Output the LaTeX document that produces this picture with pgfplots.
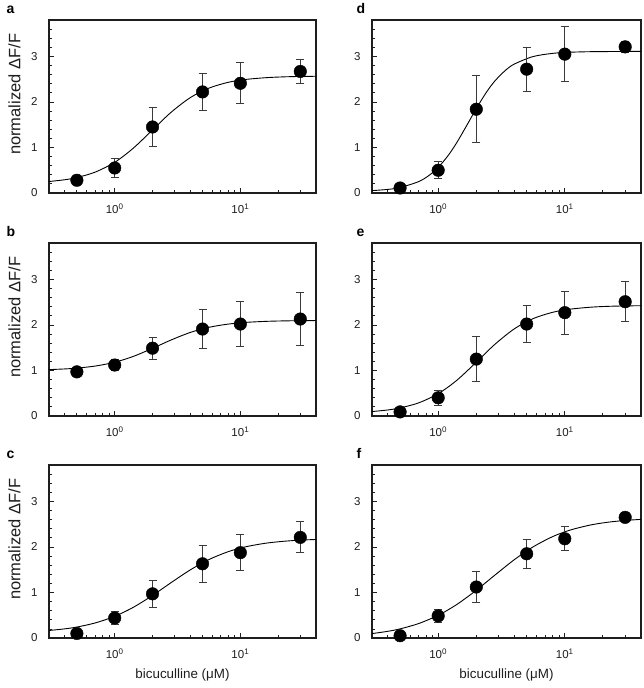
\documentclass[border=0pt]{standalone}
\usepackage{pgfplots}
\pgfplotsset{compat=1.18}
\usepackage{fontspec}
\setmainfont{Liberation Sans}
\definecolor{axc}{HTML}{1E1E1E}
\definecolor{erc}{HTML}{3A3A3A}

\begin{document}
\begin{tikzpicture}
\useasboundingbox (0pt,0pt) rectangle (643pt,-688pt);

% ---------- a ----------
\begin{axis}[xmode=log, scale only axis, width=267pt, height=173pt,
  xmin=0.3, xmax=40, ymin=0, ymax=3.8,
  xtick={1,10}, xticklabels={10\textsuperscript{0},10\textsuperscript{1}},
  minor xtick={0.4,0.5,0.6,0.7,0.8,0.9,2,3,4,5,6,7,8,9,20,30},
  ytick={0,1,2,3}, yticklabels={0,1,2,3},
  minor ytick={0.2,0.4,0.6,0.8,1.2,1.4,1.6,1.8,2.2,2.4,2.6,2.8,3.2,3.4,3.6},
  tick pos=left, tick align=inside,
  major tick length=5pt, minor tick length=3pt,
  axis line style={line width=1.5pt, axc},
  tick style={axc, line width=0.8pt},
  tick label style={font=\fontsize{11.5}{13}\selectfont, text=axc},
  yticklabel style={xshift=-8pt},
  xticklabel style={yshift=-7pt},
  clip=false,
  at={(49pt,-20pt)}, anchor=north west,
  ylabel={normalized \symbol{"0394}F/F},
  ylabel style={at={(axis description cs:-0.129,0.57)}, anchor=center,
   font=\fontsize{16.5}{18}\selectfont, text=axc}]
\addplot[smooth, black, line width=0.9pt, no marks] coordinates {(0.3,0.252)(0.4,0.291)(0.5,0.339)(0.7,0.459)(1,0.674)(1.4,0.980)(2,1.385)(2.8,1.769)(4,2.096)(5.6,2.302)(8,2.431)(11,2.494)(16,2.533)(22,2.551)(30,2.560)(40,2.564)};
\addplot[only marks, mark=*, mark size=6.3pt, black,
  error bars/.cd, y dir=both, y explicit,
  error bar style={erc, line width=1pt},
  error mark options={rotate=90, erc, line width=1pt, mark size=4pt}]
  coordinates {(0.5,0.28) +- (0,0.03) (1,0.55) +- (0,0.20) (2,1.45) +- (0,0.42) (5,2.22) +- (0,0.41) (10,2.41) +- (0,0.45) (30,2.67) +- (0,0.26)};
\node[anchor=base west, font=\fontsize{14}{16}\selectfont\bfseries, xshift=-46pt, yshift=7pt] at (rel axis cs:0,1) {a};
\end{axis}

% ---------- b ----------
\begin{axis}[xmode=log, scale only axis, width=267pt, height=173pt,
  xmin=0.3, xmax=40, ymin=0, ymax=3.8,
  xtick={1,10}, xticklabels={10\textsuperscript{0},10\textsuperscript{1}},
  minor xtick={0.4,0.5,0.6,0.7,0.8,0.9,2,3,4,5,6,7,8,9,20,30},
  ytick={0,1,2,3}, yticklabels={0,1,2,3},
  minor ytick={0.2,0.4,0.6,0.8,1.2,1.4,1.6,1.8,2.2,2.4,2.6,2.8,3.2,3.4,3.6},
  tick pos=left, tick align=inside,
  major tick length=5pt, minor tick length=3pt,
  axis line style={line width=1.5pt, axc},
  tick style={axc, line width=0.8pt},
  tick label style={font=\fontsize{11.5}{13}\selectfont, text=axc},
  yticklabel style={xshift=-8pt},
  xticklabel style={yshift=-7pt},
  clip=false,
  at={(49pt,-243pt)}, anchor=north west,
  ylabel={normalized \symbol{"0394}F/F},
  ylabel style={at={(axis description cs:-0.129,0.57)}, anchor=center,
   font=\fontsize{16.5}{18}\selectfont, text=axc}]
\addplot[smooth, black, line width=0.9pt, no marks] coordinates {(0.3,1.019)(0.4,1.034)(0.5,1.052)(0.7,1.097)(1,1.181)(1.4,1.307)(2,1.486)(2.8,1.668)(4,1.836)(5.6,1.947)(8,2.019)(11,2.056)(16,2.079)(22,2.089)(30,2.094)(40,2.097)};
\addplot[only marks, mark=*, mark size=6.3pt, black,
  error bars/.cd, y dir=both, y explicit,
  error bar style={erc, line width=1pt},
  error mark options={rotate=90, erc, line width=1pt, mark size=4pt}]
  coordinates {(0.5,0.97) +- (0,0.03) (1,1.12) +- (0,0.12) (2,1.49) +- (0,0.24) (5,1.91) +- (0,0.43) (10,2.02) +- (0,0.50) (30,2.13) +- (0,0.58)};
\node[anchor=base west, font=\fontsize{14}{16}\selectfont\bfseries, xshift=-46pt, yshift=7pt] at (rel axis cs:0,1) {b};
\end{axis}

% ---------- c ----------
\begin{axis}[xmode=log, scale only axis, width=267pt, height=173pt,
  xmin=0.3, xmax=40, ymin=0, ymax=3.8,
  xtick={1,10}, xticklabels={10\textsuperscript{0},10\textsuperscript{1}},
  minor xtick={0.4,0.5,0.6,0.7,0.8,0.9,2,3,4,5,6,7,8,9,20,30},
  ytick={0,1,2,3}, yticklabels={0,1,2,3},
  minor ytick={0.2,0.4,0.6,0.8,1.2,1.4,1.6,1.8,2.2,2.4,2.6,2.8,3.2,3.4,3.6},
  tick pos=left, tick align=inside,
  major tick length=5pt, minor tick length=3pt,
  axis line style={line width=1.5pt, axc},
  tick style={axc, line width=0.8pt},
  tick label style={font=\fontsize{11.5}{13}\selectfont, text=axc},
  yticklabel style={xshift=-8pt},
  xticklabel style={yshift=-7pt},
  clip=false,
  at={(49pt,-465pt)}, anchor=north west,
  ylabel={normalized \symbol{"0394}F/F},
  ylabel style={at={(axis description cs:-0.129,0.57)}, anchor=center,
   font=\fontsize{16.5}{18}\selectfont, text=axc},
  xlabel={bicuculline (\symbol{"03BC}M)},
  xlabel style={at={(axis description cs:0.5,0)}, anchor=base, yshift=-40pt,
   font=\fontsize{13.4}{15}\selectfont, text=axc}]
\addplot[smooth, black, line width=0.9pt, no marks] coordinates {(0.3,0.165)(0.4,0.201)(0.5,0.241)(0.7,0.331)(1,0.476)(1.4,0.671)(2,0.935)(2.8,1.213)(4,1.497)(5.6,1.721)(8,1.896)(11,2.003)(16,2.083)(22,2.124)(30,2.150)(40,2.164)};
\addplot[only marks, mark=*, mark size=6.3pt, black,
  error bars/.cd, y dir=both, y explicit,
  error bar style={erc, line width=1pt},
  error mark options={rotate=90, erc, line width=1pt, mark size=4pt}]
  coordinates {(0.5,0.10) +- (0,0.03) (1,0.44) +- (0,0.145) (2,0.97) +- (0,0.30) (5,1.63) +- (0,0.41) (10,1.875) +- (0,0.40) (30,2.21) +- (0,0.34)};
\node[anchor=base west, font=\fontsize{14}{16}\selectfont\bfseries, xshift=-46pt, yshift=7pt] at (rel axis cs:0,1) {c};
\end{axis}

% ---------- d ----------
\begin{axis}[xmode=log, scale only axis, width=269pt, height=173pt,
  xmin=0.3, xmax=40, ymin=0, ymax=3.8,
  xtick={1,10}, xticklabels={10\textsuperscript{0},10\textsuperscript{1}},
  minor xtick={0.4,0.5,0.6,0.7,0.8,0.9,2,3,4,5,6,7,8,9,20,30},
  ytick={0,1,2,3}, yticklabels={0,1,2,3},
  minor ytick={0.2,0.4,0.6,0.8,1.2,1.4,1.6,1.8,2.2,2.4,2.6,2.8,3.2,3.4,3.6},
  tick pos=left, tick align=inside,
  major tick length=5pt, minor tick length=3pt,
  axis line style={line width=1.5pt, axc},
  tick style={axc, line width=0.8pt},
  tick label style={font=\fontsize{11.5}{13}\selectfont, text=axc},
  yticklabel style={xshift=-8pt},
  xticklabel style={yshift=-7pt},
  clip=false,
  at={(372pt,-20pt)}, anchor=north west]
\addplot[smooth, black, line width=0.9pt, no marks] coordinates {(0.3,0.052)(0.4,0.079)(0.5,0.120)(0.7,0.250)(0.85,0.390)(1,0.562)(1.2,0.825)(1.4,1.104)(1.7,1.507)(2,1.855)(2.4,2.210)(2.8,2.459)(3.4,2.695)(4,2.833)(5.6,2.996)(8,3.067)(11,3.092)(16,3.104)(22,3.107)(30,3.109)(40,3.110)};
\addplot[only marks, mark=*, mark size=6.3pt, black,
  error bars/.cd, y dir=both, y explicit,
  error bar style={erc, line width=1pt},
  error mark options={rotate=90, erc, line width=1pt, mark size=4pt}]
  coordinates {(0.5,0.11) +- (0,0.04) (1,0.50) +- (0,0.19) (2,1.84) +- (0,0.73) (5,2.72) +- (0,0.48) (10,3.05) +- (0,0.61) (30,3.21) +- (0,0.12)};
\node[anchor=base west, font=\fontsize{14}{16}\selectfont\bfseries, xshift=-19pt, yshift=7pt] at (rel axis cs:0,1) {d};
\end{axis}

% ---------- e ----------
\begin{axis}[xmode=log, scale only axis, width=269pt, height=173pt,
  xmin=0.3, xmax=40, ymin=0, ymax=3.8,
  xtick={1,10}, xticklabels={10\textsuperscript{0},10\textsuperscript{1}},
  minor xtick={0.4,0.5,0.6,0.7,0.8,0.9,2,3,4,5,6,7,8,9,20,30},
  ytick={0,1,2,3}, yticklabels={0,1,2,3},
  minor ytick={0.2,0.4,0.6,0.8,1.2,1.4,1.6,1.8,2.2,2.4,2.6,2.8,3.2,3.4,3.6},
  tick pos=left, tick align=inside,
  major tick length=5pt, minor tick length=3pt,
  axis line style={line width=1.5pt, axc},
  tick style={axc, line width=0.8pt},
  tick label style={font=\fontsize{11.5}{13}\selectfont, text=axc},
  yticklabel style={xshift=-8pt},
  xticklabel style={yshift=-7pt},
  clip=false,
  at={(372pt,-243pt)}, anchor=north west]
\addplot[smooth, black, line width=0.9pt, no marks] coordinates {(0.3,0.098)(0.4,0.133)(0.5,0.178)(0.7,0.288)(1,0.490)(1.4,0.782)(2,1.182)(2.8,1.573)(4,1.916)(5.6,2.137)(8,2.277)(11,2.346)(16,2.390)(22,2.409)(30,2.418)(40,2.423)};
\addplot[only marks, mark=*, mark size=6.3pt, black,
  error bars/.cd, y dir=both, y explicit,
  error bar style={erc, line width=1pt},
  error mark options={rotate=90, erc, line width=1pt, mark size=4pt}]
  coordinates {(0.5,0.09) +- (0,0.03) (1,0.40) +- (0,0.165) (2,1.25) +- (0,0.49) (5,2.02) +- (0,0.40) (10,2.27) +- (0,0.47) (30,2.51) +- (0,0.445)};
\node[anchor=base west, font=\fontsize{14}{16}\selectfont\bfseries, xshift=-19pt, yshift=7pt] at (rel axis cs:0,1) {e};
\end{axis}

% ---------- f ----------
\begin{axis}[xmode=log, scale only axis, width=269pt, height=173pt,
  xmin=0.3, xmax=40, ymin=0, ymax=3.8,
  xtick={1,10}, xticklabels={10\textsuperscript{0},10\textsuperscript{1}},
  minor xtick={0.4,0.5,0.6,0.7,0.8,0.9,2,3,4,5,6,7,8,9,20,30},
  ytick={0,1,2,3}, yticklabels={0,1,2,3},
  minor ytick={0.2,0.4,0.6,0.8,1.2,1.4,1.6,1.8,2.2,2.4,2.6,2.8,3.2,3.4,3.6},
  tick pos=left, tick align=inside,
  major tick length=5pt, minor tick length=3pt,
  axis line style={line width=1.5pt, axc},
  tick style={axc, line width=0.8pt},
  tick label style={font=\fontsize{11.5}{13}\selectfont, text=axc},
  yticklabel style={xshift=-8pt},
  xticklabel style={yshift=-7pt},
  clip=false,
  at={(372pt,-465pt)}, anchor=north west,
  xlabel={bicuculline (\symbol{"03BC}M)},
  xlabel style={at={(axis description cs:0.5,0)}, anchor=base, yshift=-40pt,
   font=\fontsize{13.4}{15}\selectfont, text=axc}]
\addplot[smooth, black, line width=0.9pt, no marks] coordinates {(0.3,0.097)(0.4,0.147)(0.5,0.201)(0.7,0.317)(1,0.499)(1.4,0.735)(2,1.049)(2.8,1.380)(4,1.722)(5.6,1.999)(8,2.226)(11,2.370)(16,2.483)(22,2.544)(30,2.582)(40,2.606)};
\addplot[only marks, mark=*, mark size=6.3pt, black,
  error bars/.cd, y dir=both, y explicit,
  error bar style={erc, line width=1pt},
  error mark options={rotate=90, erc, line width=1pt, mark size=4pt}]
  coordinates {(0.5,0.05) +- (0,0.03) (1,0.485) +- (0,0.145) (2,1.12) +- (0,0.33) (5,1.85) +- (0,0.32) (10,2.18) +- (0,0.26) (30,2.65) +- (0,0.10)};
\node[anchor=base west, font=\fontsize{14}{16}\selectfont\bfseries, xshift=-19pt, yshift=7pt] at (rel axis cs:0,1) {f};
\end{axis}

\end{tikzpicture}
\end{document}
